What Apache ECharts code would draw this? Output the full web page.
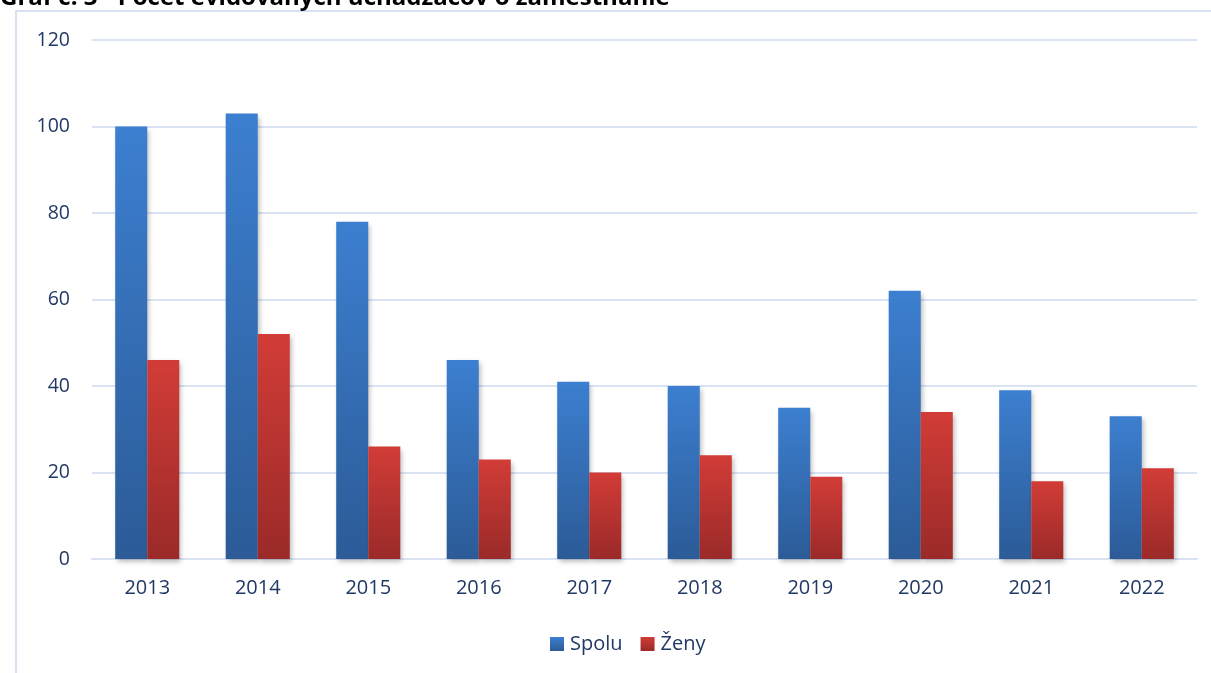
<!DOCTYPE html>
<html>
<head>
<meta charset="utf-8">
<script src="https://cdn.jsdelivr.net/npm/echarts@6/dist/echarts.min.js"></script>
<style>
  html, body { margin: 0; padding: 0; background: #fff; }
  #chart { width: 1211px; height: 673px; }
</style>
</head>
<body>
<div id="chart"></div>
<script>
const years = ["2013", "2014", "2015", "2016", "2017", "2018", "2019", "2020", "2021", "2022"];
const spolu = [100, 103, 78, 46, 41, 40, 35, 62, 39, 33];
const zeny = [46, 52, 26, 23, 20, 24, 19, 34, 18, 21];
const yTicks = { min: 0, max: 120, interval: 20 };

const chart = echarts.init(document.getElementById("chart"));
const labelColor = "#203864";
const gridColor = "#dae3f3";

function grad(top, bottom) {
  return new echarts.graphic.LinearGradient(0, 0, 0, 1, [
    { offset: 0, color: top },
    { offset: 1, color: bottom }
  ]);
}

const barShadow = {
  shadowColor: "rgba(0,0,0,0.28)",
  shadowBlur: 5,
  shadowOffsetX: 2,
  shadowOffsetY: 3
};

const option = {
  animation: false,
  textStyle: { fontFamily: "Open Sans" },
  graphic: [
    {
      type: "rect",
      shape: { x: 16, y: 11, width: 1400, height: 900 },
      style: { fill: "none", stroke: "#d6e2f2", lineWidth: 2 },
      silent: true
    },
    {
      type: "text",
      left: 0,
      top: -14,
      style: {
        text: "Graf č. 3 - Počet evidovaných uchádzačov o zamestnanie",
        fontFamily: "Open Sans",
        fontWeight: "bold",
        fontSize: 24,
        fill: "#000"
      }
    }
  ],
  grid: { left: 92, right: 14, top: 40, bottom: 114 },
  legend: {
    bottom: 14,
    left: 545,
    itemWidth: 14,
    itemHeight: 14,
    itemGap: 18,
    icon: "rect",
    textStyle: { color: labelColor, fontSize: 20, padding: [0, 0, 0, 1] },
    data: ["Spolu", "Ženy"]
  },
  xAxis: {
    type: "category",
    data: years,
    axisLine: { lineStyle: { color: gridColor, width: 2 } },
    axisTick: { show: false },
    axisLabel: { color: labelColor, fontSize: 20, margin: 19 }
  },
  yAxis: {
    type: "value",
    min: yTicks.min,
    max: yTicks.max,
    interval: yTicks.interval,
    axisLine: { show: false },
    axisTick: { show: false },
    splitLine: { lineStyle: { color: gridColor, width: 2 } },
    axisLabel: { color: labelColor, fontSize: 19.5, margin: 22 }
  },
  series: [
    {
      name: "Spolu",
      type: "bar",
      data: spolu,
      barGap: "0%",
      barCategoryGap: "42%",
      itemStyle: Object.assign({ color: grad("#3c7fd0", "#2c5b97") }, barShadow)
    },
    {
      name: "Ženy",
      type: "bar",
      data: zeny,
      itemStyle: Object.assign({ color: grad("#d23c37", "#9a2a29") }, barShadow)
    }
  ]
};

chart.setOption(option);
</script>
</body>
</html>
